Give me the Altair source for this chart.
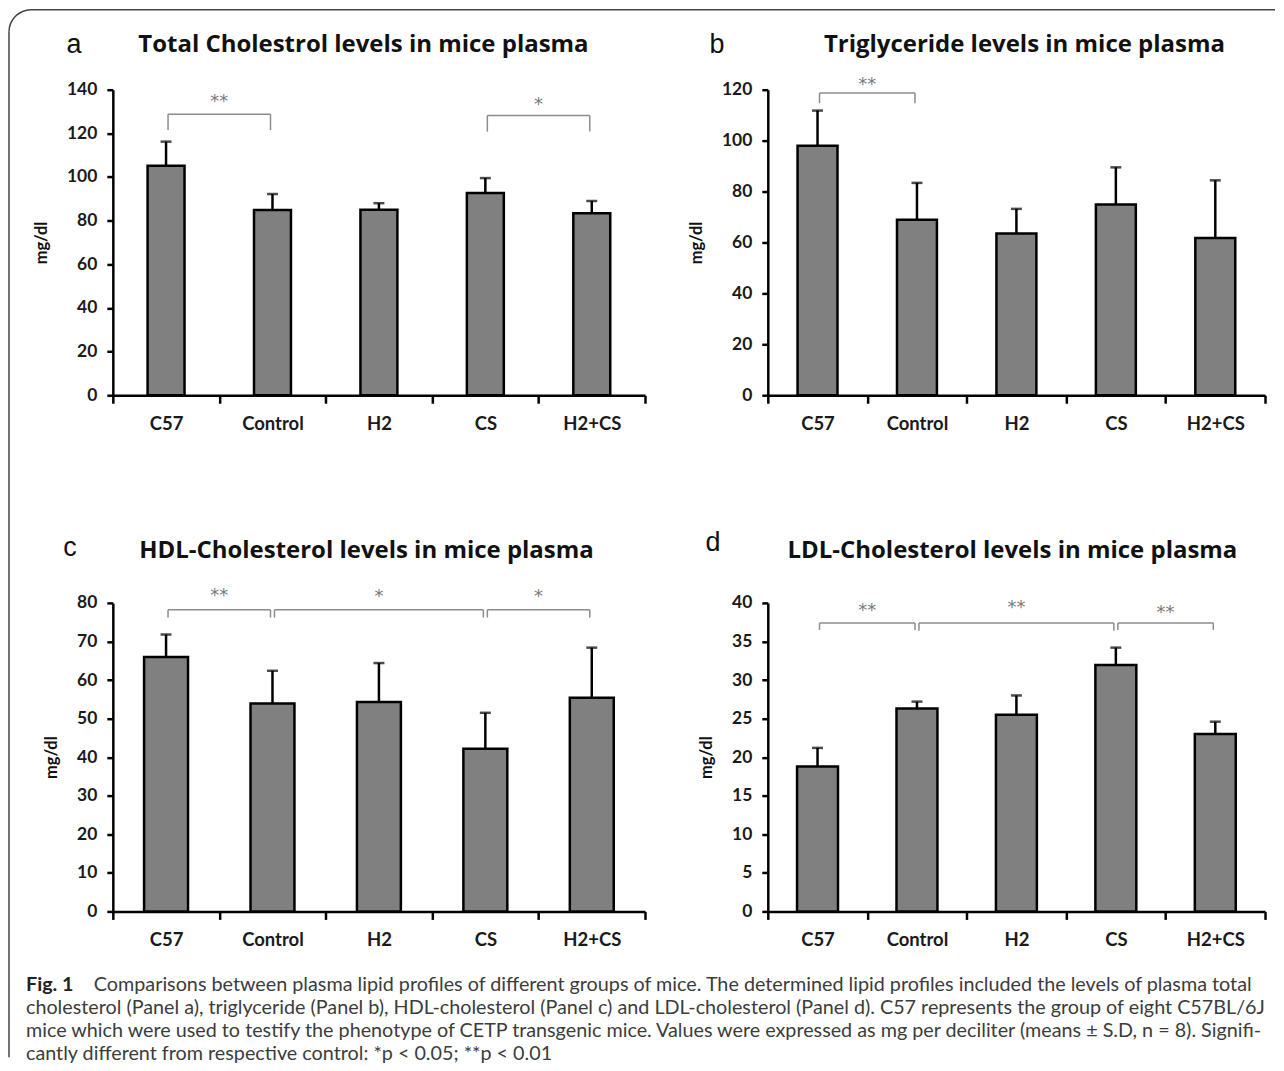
import altair as alt
import pandas as pd

cats = ["C57", "Control", "H2", "CS", "H2+CS"]

# means and standard deviations
tc_mean = [105.2, 84.9, 85.0, 92.7, 83.4]
tc_sd = [11.0, 7.3, 3.0, 6.8, 5.6]
tg_mean = [98.0, 68.9, 63.5, 74.9, 61.8]
tg_sd = [13.8, 14.5, 9.7, 14.6, 22.6]
hdl_mean = [66.0, 53.9, 54.3, 42.2, 55.4]
hdl_sd = [5.8, 8.5, 10.1, 9.3, 13.0]
ldl_mean = [18.8, 26.3, 25.5, 31.95, 23.0]
ldl_sd = [2.4, 0.9, 2.5, 2.25, 1.6]

titles = ["Total Cholestrol levels in mice plasma",
          "Triglyceride levels in mice plasma",
          "HDL-Cholesterol levels in mice plasma",
          "LDL-Cholesterol levels in mice plasma"]
letters = ["a", "b", "c", "d"]
y_max = [140, 120, 80, 40]
y_step = [20, 20, 10, 5]

# significance brackets: (from, to, bracket top, end of legs, label, label y)
brackets_a = [("C57", "Control", 128.8, 121.5, "**", 134.5),
              ("CS", "H2+CS", 128.2, 120.8, "*", 133.0)]
brackets_b = [("C57", "Control", 118.7, 114.7, "**", 122.0)]
brackets_c = [("C57", "Control", 78.2, 76.2, "**", 81.8),
              ("Control", "CS", 78.2, 76.2, "*", 81.4),
              ("CS", "H2+CS", 78.2, 76.2, "*", 81.4)]
brackets_d = [("C57", "Control", 37.4, 36.5, "**", 39.0),
              ("Control", "CS", 37.4, 36.4, "**", 39.4),
              ("CS", "H2+CS", 37.4, 36.5, "**", 38.7)]

caption_head = "Fig. 1"
caption_line1 = ("Comparisons between plasma lipid profiles of different groups of mice. "
                 "The determined lipid profiles included the levels of plasma total")
caption_rest = [
    "cholesterol (Panel a), triglyceride (Panel b), HDL-cholesterol (Panel c) and "
    "LDL-cholesterol (Panel d). C57 represents the group of eight C57BL/6J",
    "mice which were used to testify the phenotype of CETP transgenic mice. Values were "
    "expressed as mg per deciliter (means \u00b1 S.D, n = 8). Signifi-",
    "cantly different from respective control: *p < 0.05; **p < 0.01",
]

FONT = "Lato"
TFONT = "Open Sans"
GREY_BAR = "#808080"
GREY_BRACKET = "#8c8c8c"


def panel(means, sds, brackets, ymax, ystep, bar_size, width, height,
          title, tpos, letter, lpos, extra=None):
    df = pd.DataFrame({"cat": cats, "mean": means,
                       "top": [m + s for m, s in zip(means, sds)]})
    bdf = pd.DataFrame(brackets, columns=["x1", "x2", "ytop", "yend", "label", "ylab"])
    bdf["mid"] = [(cats.index(a) + cats.index(b)) / 2 for a, b in zip(bdf.x1, bdf.x2)]

    yscale = alt.Scale(domain=[0, ymax], nice=False, zero=True)
    xsc = alt.Scale(domain=cats, paddingInner=0, paddingOuter=0)
    xaxis = alt.Axis(title=None, labelAngle=0, tickBand="extent", tickSize=8,
                     labelPadding=11, labelFontSize=18.5)
    yaxis = alt.Axis(values=list(range(0, ymax + 1, ystep)), title="mg/dl",
                     tickSize=6, labelPadding=10, titlePadding=17,
                     labelOverlap=False, labelFontSize=17.5)

    def Y(field):
        return alt.Y(field, scale=yscale, axis=yaxis)

    base = alt.Chart(df)
    bars = base.mark_bar(size=bar_size, color=GREY_BAR, stroke="black",
                         strokeWidth=2.5).encode(
        x=alt.X("cat:N", scale=xsc, axis=xaxis), y=Y("mean:Q"))
    err = base.mark_rule(color="black", strokeWidth=2.5).encode(
        x=alt.X("cat:N", scale=xsc, axis=xaxis), y=Y("mean:Q"), y2="top:Q")
    cap = base.mark_tick(color="black", thickness=2.5, size=11,
                         orient="horizontal").encode(
        x=alt.X("cat:N", scale=xsc, axis=xaxis), y=Y("top:Q"))

    bb = alt.Chart(bdf)
    hline = bb.mark_rule(color=GREY_BRACKET, strokeWidth=1.5, xOffset=2,
                         x2Offset=-2).encode(
        x=alt.X("x1:N", scale=xsc, axis=xaxis), x2="x2:N", y=Y("ytop:Q"))
    lleg = bb.mark_rule(color=GREY_BRACKET, strokeWidth=1.5, xOffset=2).encode(
        x=alt.X("x1:N", scale=xsc, axis=xaxis), y=Y("ytop:Q"), y2="yend:Q")
    rleg = bb.mark_rule(color=GREY_BRACKET, strokeWidth=1.5, xOffset=-2).encode(
        x=alt.X("x2:N", scale=xsc, axis=xaxis), y=Y("ytop:Q"), y2="yend:Q")

    core = alt.layer(bars, err, cap, hline, lleg, rleg)

    stars = bb.mark_text(color="#7a7a7a", fontSize=18, font="DejaVu Sans",
                         baseline="middle").encode(
        x=alt.X("mid:Q", scale=alt.Scale(domain=[-0.5, 4.5], nice=False, zero=False),
                axis=None),
        y=Y("ylab:Q"),
        text="label:N")

    ann = alt.Chart(pd.DataFrame({"t": [title], "l": [letter]}))
    ttl = ann.mark_text(font=TFONT, fontWeight="bold", fontSize=24, color="#111111",
                        align="center", baseline="middle").encode(
        x=alt.value(tpos[0]), y=alt.value(tpos[1]), text="t:N")
    let = ann.mark_text(font="Liberation Sans", fontSize=27, color="#111111",
                        align="center", baseline="middle").encode(
        x=alt.value(lpos[0]), y=alt.value(lpos[1]), text="l:N")

    layers = [alt.layer(core, stars).resolve_scale(x="independent"), ttl, let]
    if extra:
        layers += extra
    return alt.layer(*layers).properties(width=width, height=height)


# caption and figure frame (drawn relative to panel c)
cap_df = pd.DataFrame({"h": [caption_head], "l1": [caption_line1],
                       "rest": ["\n".join(caption_rest)]})
CAPFONT = "Lato"
CAPSIZE = 19.8
cc = alt.Chart(cap_df)
cap_head = cc.mark_text(font=CAPFONT, fontWeight="bold", fontSize=CAPSIZE,
                        color="#222222", align="left", baseline="alphabetic").encode(
    x=alt.value(-87), y=alt.value(389), text="h:N")
cap_l1 = cc.mark_text(font=CAPFONT, fontSize=CAPSIZE, color="#3c3c3c", align="left",
                      baseline="alphabetic").encode(
    x=alt.value(-19), y=alt.value(389), text="l1:N")
cap_rest = cc.mark_text(font=CAPFONT, fontSize=CAPSIZE, color="#3c3c3c", align="left",
                        baseline="alphabetic", lineBreak="\n", lineHeight=23).encode(
    x=alt.value(-87), y=alt.value(412), text="rest:N")
frame_top = cc.mark_rule(color="#444444", strokeWidth=1.5).encode(
    x=alt.value(-82), x2=alt.value(1164), y=alt.value(-594))
frame_left = cc.mark_rule(color="#444444", strokeWidth=1.5).encode(
    x=alt.value(-104), y=alt.value(-572), y2=alt.value(455))
frame_corner = cc.mark_arc(color="#444444", radius=22.75, radius2=21.25,
                           theta=4.7124, theta2=6.2832).encode(
    x=alt.value(-82), y=alt.value(-572))

pa = panel(tc_mean, tc_sd, brackets_a, y_max[0], y_step[0], 37, 533, 306,
           titles[0], (251, -45), letters[0], (-39, -45))
pb = panel(tg_mean, tg_sd, brackets_b, y_max[1], y_step[1], 40, 498, 306,
           titles[1], (257, -45), letters[1], (-51, -45))
pc = panel(hdl_mean, hdl_sd, brackets_c, y_max[2], y_step[2], 44, 533, 309,
           titles[2], (254, -52), letters[2], (-43, -55),
           extra=[cap_head, cap_l1, cap_rest, frame_top, frame_left, frame_corner])
pd_ = panel(ldl_mean, ldl_sd, brackets_d, y_max[3], y_step[3], 41, 498, 309,
            titles[3], (245, -52), letters[3], (-55, -60))

chart = alt.concat(pa, pb, pc, pd_, columns=2,
                   spacing={"row": 208, "column": 123}, bounds="flush").properties(
    padding=0
).configure_view(stroke=None).configure_axis(
    labelFont=FONT, labelFontWeight="bold", labelColor="#1a1a1a",
    titleFont=FONT, titleFontWeight="bold", titleFontSize=16.5, titleColor="#111111",
    domainColor="black", domainWidth=2.5, tickColor="black", tickWidth=2.5,
    grid=False)

chart.save("out.html", embed_options={"renderer": "svg", "actions": False})
